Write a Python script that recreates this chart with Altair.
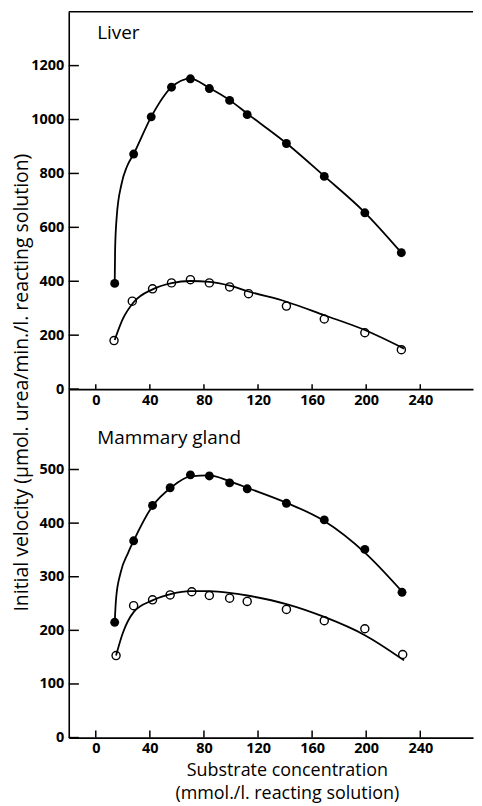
import altair as alt
import pandas as pd

# ---- data ----
tick_x = [0, 40, 80, 120, 160, 200, 240]
tick_y_liver = [0, 200, 400, 600, 800, 1000, 1200]
tick_y_mam = [0, 100, 200, 300, 400, 500]

liver_filled_x = [14, 28, 41, 56, 70, 84, 99, 112, 141, 169, 199, 226]
liver_filled_y = [392, 872, 1010, 1120, 1151, 1115, 1071, 1018, 911, 789, 654, 506]
liver_open_x = [13.5, 27, 42, 56, 70, 84, 99, 113, 141, 169, 199, 226]
liver_open_y = [180, 326, 372, 394, 406, 394, 379, 354, 308, 260, 209, 146]

liver_fcurve_x = [14, 14.3, 15.5, 19, 23, 28, 41, 56, 70, 84, 99, 112, 141, 169, 199, 226]
liver_fcurve_y = [392, 520, 640, 760, 825, 872, 1010, 1120, 1152, 1117, 1072, 1022, 912, 790, 655, 506]
liver_ocurve_x = [14, 20, 28, 42, 56, 70, 84, 99, 113, 141, 169, 199, 228]
liver_ocurve_y = [182, 260, 322, 370, 393, 401, 398, 384, 362, 324, 274, 219, 150]

mam_filled_x = [14, 28, 42, 55, 70, 84, 99, 112, 141, 169, 199, 226.5]
mam_filled_y = [215, 367, 433, 466, 490, 488, 475, 464, 437, 406, 351, 271]
mam_open_x = [15, 28, 42, 55, 71, 84, 99, 112, 141, 169, 199, 227]
mam_open_y = [153, 246, 257, 266, 272, 265, 260, 254, 239, 218, 203, 155]

mam_fcurve_x = [14, 15, 18.4, 24, 28, 42, 56, 70, 84, 99, 113, 141, 169, 199, 227]
mam_fcurve_y = [215, 259, 308, 345, 367, 432, 467, 487, 489, 478, 465, 438, 404, 345, 271]
mam_ocurve_x = [15, 20, 28, 42, 56, 70, 84, 99, 112, 141, 169, 199, 228]
mam_ocurve_y = [153, 195, 234, 256, 268, 273, 273, 270, 265, 249, 225, 191, 144]

panel_names = ["Liver", "Mammary gland"]
x_title = ["Substrate concentration", "(mmol./l. reacting solution)"]
y_title = "Initial velocity (\u03bcmol. urea/min./l. reacting solution)"

X_MIN, X_MAX = -20, 279
W = 406
FONT = "Open Sans"


def panel(fx, fy, ox, oy, fcx, fcy, ocx, ocy, ymax, yticks, height, name, label_y,
          tick_len_y, tick_len_x, bottom, top_border):
    xs = alt.Scale(domain=[X_MIN, X_MAX], nice=False, zero=False)
    ys = alt.Scale(domain=[0, ymax], nice=False)
    common = dict(labelFont=FONT, labelFontWeight="bold", labelFontSize=14.5, ticks=False, grid=False,
                  domainColor="black", domainWidth=1.6, labelColor="black", format="d")
    if bottom:
        x_axis = alt.Axis(values=tick_x, labelPadding=4, title=x_title,
                          titleFont=FONT, titleFontSize=18, titleFontWeight="normal", titleColor="black",
                          titleX=219, titlePadding=7, titleLineHeight=22.5, **common)
        y_axis = alt.Axis(values=yticks, labelPadding=5, title=y_title, titleFont=FONT, titleFontSize=19.5,
                          titleFontWeight="normal", titleColor="black", titleAngle=-90,
                          titleX=-47, titleY=-7, titleAlign="center", titleBaseline="middle", **common)
    else:
        x_axis = alt.Axis(values=tick_x, labelPadding=4, title=None, **common)
        y_axis = alt.Axis(values=yticks, labelPadding=5, title=None, **common)

    pts_f = pd.DataFrame({"x": fx, "y": fy})
    pts_o = pd.DataFrame({"x": ox, "y": oy})
    cf = pd.DataFrame({"x": fcx, "y": fcy})
    co = pd.DataFrame({"x": ocx, "y": ocy})

    l1 = alt.Chart(cf).mark_line(color="black", strokeWidth=1.8, interpolate="monotone").encode(
        x=alt.X("x:Q", scale=xs, axis=x_axis), y=alt.Y("y:Q", scale=ys, axis=y_axis))
    l2 = alt.Chart(co).mark_line(color="black", strokeWidth=1.8, interpolate="monotone").encode(
        x=alt.X("x:Q", scale=xs), y=alt.Y("y:Q", scale=ys))
    p1 = alt.Chart(pts_f).mark_point(shape="circle", filled=True, color="black", size=80, opacity=1).encode(
        x=alt.X("x:Q", scale=xs), y=alt.Y("y:Q", scale=ys))
    p2 = alt.Chart(pts_o).mark_point(shape="circle", filled=False, color="black", size=66, strokeWidth=1.4,
                                     opacity=1).encode(x=alt.X("x:Q", scale=xs), y=alt.Y("y:Q", scale=ys))

    xt = pd.DataFrame({"tx": tick_x})
    xticks = alt.Chart(xt).mark_rule(color="black", strokeWidth=1.5).encode(
        x=alt.X("tx:Q", scale=xs), y=alt.datum(0), y2=alt.datum(tick_len_x))
    yt = pd.DataFrame({"ty": yticks})
    yticks_m = alt.Chart(yt).mark_rule(color="black", strokeWidth=1.5).encode(
        y=alt.Y("ty:Q", scale=ys), x=alt.datum(X_MIN), x2=alt.datum(X_MIN + tick_len_y))

    lab = alt.Chart(pd.DataFrame({"n": [name]})).mark_text(
        font=FONT, fontSize=19, align="left", baseline="alphabetic", color="black").encode(
        x=alt.datum(1), y=alt.datum(label_y), text="n:N")

    layers = [l1, l2, p1, p2, xticks, yticks_m, lab]
    if top_border:
        tb = alt.Chart(pd.DataFrame({"by": [ymax]})).mark_rule(color="black", strokeWidth=1.6).encode(
            y=alt.Y("by:Q", scale=ys), x=alt.datum(X_MIN), x2=alt.datum(X_MAX))
        layers.append(tb)
    return alt.layer(*layers).properties(
        width=W, height=height,
        view=alt.ViewBackground(stroke="transparent", strokeWidth=0, fill="transparent"))


top = panel(liver_filled_x, liver_filled_y, liver_open_x, liver_open_y,
            liver_fcurve_x, liver_fcurve_y, liver_ocurve_x, liver_ocurve_y,
            1400, tick_y_liver, 379, panel_names[0], 1297, 7.5, 18, False, True)
bottom = panel(mam_filled_x, mam_filled_y, mam_open_x, mam_open_y,
               mam_fcurve_x, mam_fcurve_y, mam_ocurve_x, mam_ocurve_y,
               650, tick_y_mam, 350, panel_names[1], 548, 7.5, 13, True, False)

chart = alt.vconcat(top, bottom, spacing=0, bounds="flush").properties(
    padding={"left": 3, "top": 1, "right": 0, "bottom": 4}
).configure_view(stroke="transparent", strokeWidth=0).configure(background="white")

chart.save("out.html", embed_options={"renderer": "svg", "actions": False})
